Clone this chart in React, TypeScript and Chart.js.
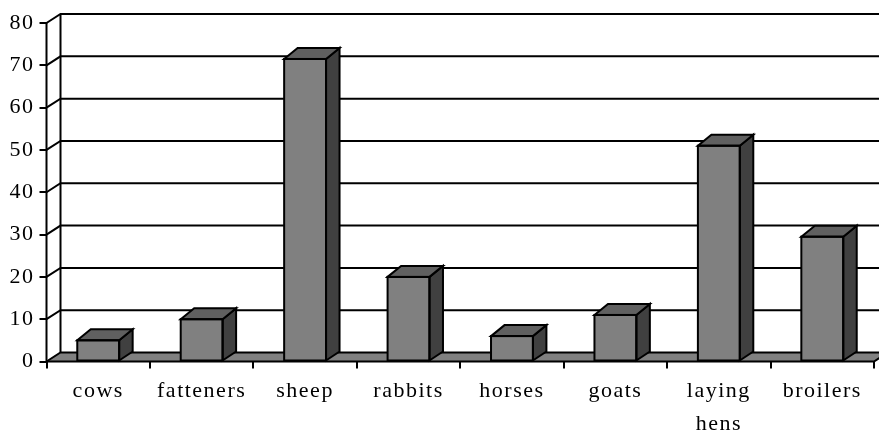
import React, { useEffect, useRef } from 'react';
import { Chart, registerables } from 'chart.js';

Chart.register(...registerables);

const categories: (string | string[])[] = ['cows', 'fatteners', 'sheep', 'rabbits', 'horses', 'goats', ['laying', 'hens'], 'broilers'];
const values: number[] = [5, 10, 71.5, 20, 6, 11, 51, 29.5];
const yTickValues: number[] = [0, 10, 20, 30, 40, 50, 60, 70, 80];

const WALL_DX = 14;
const WALL_DY = -9;
const BAR_DX = 13.5;
const BAR_DY = -11;
const FONT = '"Liberation Serif", "Times New Roman", serif';

const threeD = {
  id: 'threeD',
  beforeDraw(chart: any) {
    chart.ctx.letterSpacing = '1.5px';
  },
  beforeDatasetsDraw(chart: any) {
    const { ctx, chartArea, scales } = chart;
    const y = scales.y;
    const W = chart.width;
    const L = chartArea.left;
    const R = chartArea.right;
    const y0 = y.getPixelForValue(0);
    const yTop = y.getPixelForValue(80);
    ctx.save();
    ctx.letterSpacing = '0px';
    // floor
    ctx.fillStyle = '#808080';
    ctx.beginPath();
    ctx.moveTo(L, y0);
    ctx.lineTo(R, y0);
    ctx.lineTo(R + WALL_DX, y0 + WALL_DY);
    ctx.lineTo(L + WALL_DX, y0 + WALL_DY);
    ctx.closePath();
    ctx.fill();
    ctx.strokeStyle = '#000';
    ctx.lineWidth = 2;
    ctx.lineCap = 'butt';
    // side wall diagonals + back wall gridlines
    for (const v of yTickValues) {
      const py = y.getPixelForValue(v);
      ctx.beginPath();
      ctx.moveTo(L, py);
      ctx.lineTo(L + WALL_DX, py + WALL_DY);
      ctx.lineTo(W, py + WALL_DY);
      ctx.stroke();
    }
    // back wall left edge
    ctx.beginPath();
    ctx.moveTo(L + WALL_DX, y0 + WALL_DY);
    ctx.lineTo(L + WALL_DX, yTop + WALL_DY);
    ctx.stroke();
    // front axis line
    ctx.beginPath();
    ctx.moveTo(L, yTop);
    ctx.lineTo(L, y0);
    ctx.stroke();
    // floor front edge and right diagonal
    ctx.beginPath();
    ctx.moveTo(L, y0);
    ctx.lineTo(R, y0);
    ctx.lineTo(R + WALL_DX, y0 + WALL_DY);
    ctx.stroke();
    ctx.restore();
  },
  afterDatasetsDraw(chart: any) {
    const meta = chart.getDatasetMeta(0);
    const ctx = chart.ctx;
    const y = chart.scales.y;
    ctx.save();
    ctx.lineWidth = 2;
    ctx.strokeStyle = '#000';
    ctx.lineJoin = 'miter';
    meta.data.forEach((bar: any) => {
      const p = bar.getProps(['x', 'y', 'base', 'width'], true);
      const l = p.x - p.width / 2;
      const r = p.x + p.width / 2;
      const top = p.y;
      const base = p.base;
      // side face
      ctx.fillStyle = '#404040';
      ctx.beginPath();
      ctx.moveTo(r, top);
      ctx.lineTo(r + BAR_DX, top + BAR_DY);
      ctx.lineTo(r + BAR_DX, base + WALL_DY);
      ctx.lineTo(r, base);
      ctx.closePath();
      ctx.fill();
      ctx.stroke();
      // top face
      ctx.fillStyle = '#606060';
      ctx.beginPath();
      ctx.moveTo(l, top);
      ctx.lineTo(l + BAR_DX, top + BAR_DY);
      ctx.lineTo(r + BAR_DX, top + BAR_DY);
      ctx.lineTo(r, top);
      ctx.closePath();
      ctx.fill();
      ctx.stroke();
      // front face outline
      ctx.strokeRect(l, top, r - l, base - top);
    });
    ctx.restore();
  },
};

export default function App() {
  const ref = useRef<HTMLCanvasElement | null>(null);
  useEffect(() => {
    if (!ref.current) return;
    const chart = new Chart(ref.current, {
      type: 'bar',
      data: {
        labels: categories,
        datasets: [
          {
            data: values,
            backgroundColor: '#808080',
            borderWidth: 0,
            categoryPercentage: 1,
            barPercentage: 0.405,
          },
        ],
      },
      options: {
        responsive: false,
        animation: false,
        layout: { padding: { top: 23, right: 5, left: 0, bottom: 0 } },
        plugins: { legend: { display: false }, tooltip: { enabled: false } },
        scales: {
          x: {
            offset: true,
            grid: { offset: true, drawOnChartArea: false, drawTicks: true, tickLength: 7, color: '#000', lineWidth: 2 },
            border: { display: false },
            ticks: {
              color: '#000',
              font: { family: FONT, size: 22, lineHeight: 1.5 },
              maxRotation: 0,
              autoSkip: false,
              padding: 6,
            },
            afterFit(scale: any) {
              scale.height = 69.5;
            },
          },
          y: {
            min: 0,
            max: 80,
            grid: { drawOnChartArea: false, drawTicks: true, tickLength: 7, color: '#000', lineWidth: 2 },
            border: { display: false },
            ticks: {
              stepSize: 10,
              color: '#000',
              font: { family: FONT, size: 22 },
              padding: 5,
            },
            afterFit(scale: any) {
              scale.width = 46.5;
            },
          },
        },
      },
      plugins: [threeD],
    });
    return () => chart.destroy();
  }, []);
  return (
    <div style={{ position: 'absolute', left: 0, top: 0, width: 879, height: 431 }}>
      <canvas ref={ref} width={879} height={431} style={{ display: 'block' }} />
    </div>
  );
}
